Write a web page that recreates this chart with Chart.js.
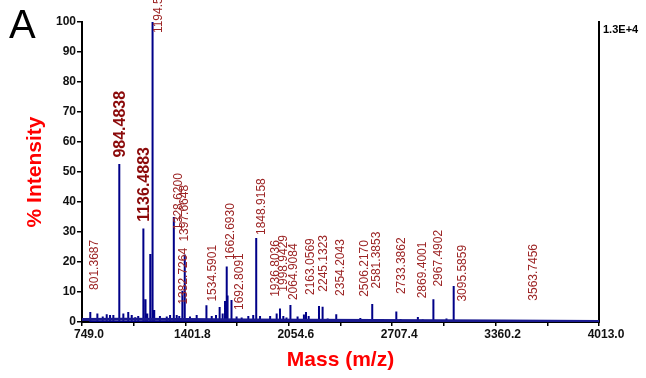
<!DOCTYPE html>
<html>
<head>
<meta charset="utf-8">
<script src="https://cdn.jsdelivr.net/npm/chart.js@4.4.1/dist/chart.umd.min.js"></script>
<style>
    html, body { margin: 0; padding: 0; background: #fff; }
    #wrap { width: 646px; height: 378px; position: relative; }
</style>
</head>
<body>
<div id="wrap"><canvas id="spectrum"></canvas></div>
<script>
// Mass range and tick marks (m/z)
const massRange = [749.0, 4013.0];
const xTickValues = [749.0, 1075.4, 1401.8, 1728.2, 2054.6, 2381.0, 2707.4, 3033.8, 3360.2, 3686.6, 4013.0];
const xTickLabels = ['749.0', '1401.8', '2054.6', '2707.4', '3360.2', '4013.0'];

// Peaks: [m/z, % intensity]
const peaks = [
    [801.37, 3.3], [846, 2.8], [880, 1.8], [905, 2.6], [926, 2.3], [947, 2.3], [984.48, 52.7],
    [1010, 2.8], [1041, 3.3], [1063, 2.3], [1085, 1.6], [1104, 2.0], [1136.49, 31.2], [1150, 7.6],
    [1161, 2.8], [1180, 22.7], [1194.5, 100], [1205, 4.0], [1241, 2.0], [1284, 1.8],
    [1305, 2.3], [1328.62, 35.0], [1347, 2.3], [1363, 2.0], [1382.73, 10.4], [1397.66, 22.5],
    [1431, 1.8], [1473, 2.3], [1534.59, 5.6], [1568, 2.0], [1595, 2.3], [1618, 5.0],
    [1637, 2.8], [1652, 7.0], [1662.69, 18.5], [1668, 8.8], [1692.81, 7.3], [1725, 1.8],
    [1757, 1.5], [1799, 2.0], [1830, 2.3], [1848.92, 28.0], [1873, 2.0], [1936.80, 2.0],
    [1978, 2.8], [1998.94, 4.5], [2020, 2.0], [2040, 1.5], [2064.91, 5.7], [2110, 1.8],
    [2150, 2.5], [2163.06, 3.3], [2180, 2.0], [2245.13, 5.3], [2268, 5.1], [2300, 1.2],
    [2354.20, 2.6], [2400, 1.0], [2470, 0.8], [2506.22, 1.3], [2581.39, 6.0], [2640, 1.0],
    [2733.39, 3.5], [2760, 1.0], [2869.40, 1.7], [2900, 0.8], [2967.49, 7.6], [3050, 1.2],
    [3095.59, 12.0], [3200, 0.6], [3300, 0.5], [3563.75, 0.6], [3600, 0.4]
];

// Noise floor along the spectrum: [m/z, % intensity]
const noiseFloor = [
    [749, 0.8], [1000, 0.9], [1400, 0.8], [1800, 0.7], [2200, 0.6],
    [2600, 0.5], [3000, 0.4], [3400, 0.3], [4013, 0.2]
];

// Annotated peaks
const peakLabels = ['801.3687', '984.4838', '1136.4883', '1194.5', '1328.6200', '1382.7264',
    '1397.6648', '1534.5901', '1662.6930', '1692.8091', '1848.9158', '1936.8036', '1998.9429',
    '2064.9084', '2163.0569', '2245.1323', '2354.2043', '2506.2170', '2581.3853', '2733.3862',
    '2869.4001', '2967.4902', '3095.5859', '3563.7456'];
const boldLabels = ['984.4838', '1136.4883'];

// where each label sits: [x offset px, bottom of text in % intensity]
const labelLayout = [
    [4.7, 10.7], [1.4, 54.8], [1.6, 33.4], [5.7, 96.3], [5.0, 30.7], [1.0, 5.8],
    [-0.5, 26.8], [6.3, 6.8], [4.0, 20.7], [8.5, 4.0], [5.1, 29.0], [5.5, 8.4], [3.3, 10.1],
    [2.9, 7.3], [5.0, 9.0], [4.3, 10.1], [4.7, 8.7], [4.7, 8.4], [4.4, 11.2], [5.4, 9.3],
    [4.8, 7.9], [4.9, 11.8], [8.6, 6.8], [5.4, 7.1]
];

const FONT = "'Liberation Sans', Arial, sans-serif";

const sticks = [];
peaks.slice().sort((a, b) => a[0] - b[0]).forEach(([m, h]) => {
    sticks.push({ x: m, y: 0 }, { x: m, y: h }, { x: m, y: 0 });
});

const annotations = {
    id: 'annotations',
    afterDraw(chart) {
        const { ctx, scales: { x, y } } = chart;
        ctx.save();

        peakLabels.forEach((txt, i) => {
            const bold = boldLabels.includes(txt);
            const [dx, bottom] = labelLayout[i];
            const px = x.getPixelForValue(parseFloat(txt)) + dx;
            const py = y.getPixelForValue(bottom);
            ctx.save();
            ctx.translate(px, py);
            ctx.rotate(-Math.PI / 2);
            ctx.font = (bold ? 'bold 16px ' : '12px ') + FONT;
            ctx.fillStyle = bold ? '#8b0a0a' : '#9c2424';
            ctx.textAlign = 'left';
            ctx.textBaseline = 'middle';
            ctx.fillText(txt, 0, 0);
            ctx.restore();
        });

        ctx.fillStyle = '#000';
        ctx.font = '40px ' + FONT;
        ctx.textAlign = 'left';
        ctx.textBaseline = 'alphabetic';
        ctx.fillText('A', 9, 38);

        ctx.font = 'bold 11px ' + FONT;
        ctx.textBaseline = 'middle';
        ctx.fillText('1.3E+4', 603, 30);
        ctx.restore();
    }
};

new Chart(document.getElementById('spectrum'), {
    type: 'line',
    data: {
        datasets: [{
            data: noiseFloor.map(([m, v]) => ({ x: m, y: v })),
            borderColor: '#1a1a90',
            borderWidth: 3,
            pointRadius: 0,
            tension: 0
        }, {
            data: sticks,
            borderColor: '#000088',
            borderWidth: 2,
            pointRadius: 0,
            tension: 0
        }]
    },
    options: {
        responsive: true,
        maintainAspectRatio: false,
        animation: false,
        layout: { padding: { left: 0, top: 22, right: 47, bottom: 0 } },
        plugins: { legend: { display: false }, tooltip: { enabled: false } },
        scales: {
            x: {
                type: 'linear',
                min: massRange[0],
                max: massRange[1],
                afterBuildTicks: (scale) => { scale.ticks = xTickValues.map(v => ({ value: v })); },
                afterFit: (scale) => { scale.height = 56; },
                ticks: {
                    autoSkip: false,
                    maxRotation: 0,
                    padding: 1,
                    labelOffset: 7,
                    color: '#111',
                    font: { family: FONT, size: 12, weight: 'bold' },
                    callback: (v) => xTickLabels.includes(v.toFixed(1)) ? v.toFixed(1) : ''
                },
                grid: { drawOnChartArea: false, drawTicks: true, tickLength: 4, color: '#000', lineWidth: 1.5 },
                border: { display: true, color: '#000', width: 2 },
                title: {
                    display: true,
                    text: 'Mass (m/z)',
                    color: '#ff0000',
                    font: { family: FONT, size: 21, weight: 'bold' },
                    padding: { top: 0, bottom: 5 }
                }
            },
            y: {
                min: 0,
                max: 100,
                afterFit: (scale) => { scale.width = 82; },
                ticks: {
                    stepSize: 10,
                    padding: 1,
                    color: '#111',
                    font: { family: FONT, size: 12, weight: 'bold' }
                },
                grid: { drawOnChartArea: false, drawTicks: true, tickLength: 5, color: '#000', lineWidth: 1.5 },
                border: { display: true, color: '#000', width: 2 },
                title: {
                    display: true,
                    text: '% Intensity',
                    color: '#ff0000',
                    font: { family: FONT, size: 21, weight: 'bold' },
                    padding: { top: 23, bottom: 0 }
                }
            },
            yRight: {
                position: 'right',
                min: 0,
                max: 100,
                afterFit: (scale) => { scale.width = 0; },
                ticks: { display: false },
                grid: { display: false, drawTicks: false },
                border: { display: true, color: '#000', width: 2 }
            }
        }
    },
    plugins: [annotations]
});
</script>
</body>
</html>
